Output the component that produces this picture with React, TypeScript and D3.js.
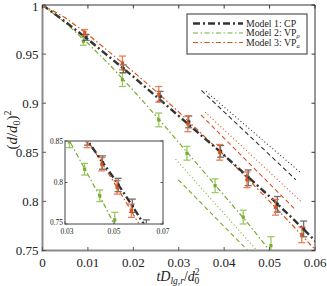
import * as d3 from 'd3'

// model curves (t, (d/d0)^2)
const MODEL_T = [0, 0.005, 0.01, 0.015, 0.02, 0.025, 0.03, 0.035, 0.04, 0.045, 0.05, 0.055, 0.06, 0.065]
const CP_CURVE = [1, 0.983, 0.965, 0.946, 0.927, 0.907, 0.887, 0.867, 0.847, 0.826, 0.805, 0.783, 0.760, 0.737]
const VPA_CURVE = [1, 0.987, 0.970, 0.951, 0.932, 0.912, 0.891, 0.869, 0.847, 0.824, 0.800, 0.776, 0.751, 0.725]
const VPR_CURVE = [1, 0.982, 0.961, 0.938, 0.913, 0.887, 0.860, 0.833, 0.806, 0.779, 0.750, 0.721, 0.692, 0.663]

// experimental points
const CP_T = [0, 0.0096, 0.0178, 0.0259, 0.0322, 0.0392, 0.0453, 0.0517, 0.0575, 0.0632]
const CP_Y = [0.999, 0.967, 0.935, 0.907, 0.881, 0.851, 0.824, 0.797, 0.772, 0.746]
const CP_ERR = [0.001, 0.003, 0.004, 0.005, 0.006, 0.006, 0.008, 0.008, 0.008, 0.009]

const VPA_T = [0, 0.0093, 0.0176, 0.0256, 0.032, 0.039, 0.045, 0.0513, 0.0571, 0.0625]
const VPA_Y = [0.999, 0.972, 0.941, 0.909, 0.879, 0.85, 0.822, 0.794, 0.766, 0.74]
const VPA_ERR = [0.001, 0.003, 0.007, 0.008, 0.008, 0.008, 0.008, 0.008, 0.008, 0.009]

const VPR_T = [0, 0.009, 0.0176, 0.0256, 0.0318, 0.038, 0.0442, 0.0503]
const VPR_Y = [0.999, 0.963, 0.924, 0.883, 0.849, 0.816, 0.784, 0.755]
const VPR_ERR = [0.001, 0.004, 0.007, 0.007, 0.007, 0.007, 0.007, 0.009]

// short guide segments [t, y] start / end
const CP_DASH = [[0.035, 0.913], [0.0558, 0.822]]
const CP_DOT = [[0.036, 0.912], [0.0569, 0.829]]
const VPA_DASH = [[0.0349, 0.888], [0.0558, 0.791]]
const VPA_DOT = [[0.0358, 0.891], [0.0569, 0.8]]
const VPR_DOT = [[0.0293, 0.843], [0.0472, 0.75]]
const VPR_DASH = [[0.0299, 0.822], [0.0452, 0.75]]

const X_TICKS = [0, 0.01, 0.02, 0.03, 0.04, 0.05, 0.06]
const X_LABELS = ['0', '0.01', '0.02', '0.03', '0.04', '0.05', '0.06']
const Y_TICKS = [0.75, 0.8, 0.85, 0.9, 0.95, 1]
const Y_LABELS = ['0.75', '0.8', '0.85', '0.9', '0.95', '1']
const IX_TICKS = [0.03, 0.05, 0.07]
const IX_LABELS = ['0.03', '0.05', '0.07']
const IY_TICKS = [0.75, 0.8, 0.85]
const IY_LABELS = ['0.75', '0.8', '0.85']

const LEGEND = ['Model 1: CP', 'Model 2: VP', 'Model 3: VP']
const LEGEND_SUB = ['', 'ρ', 'a']

const C_CP = '#333333'
const C_VPR = '#77AC30'
const C_VPA = '#D95319'
const FONT = 'Liberation Serif, DejaVu Serif, serif'

type Sc = d3.ScaleLinear<number, number>

function Curves({ x, y }: { x: Sc; y: Sc }) {
  const line = (vals: number[]) =>
    d3.line<number>().x((_, i) => x(MODEL_T[i])).y(d => y(d))(vals) ?? ''
  return (
    <g fill="none">
      <path d={line(VPR_CURVE)} stroke={C_VPR} strokeWidth={1.2} strokeDasharray="5,2.5,1.5,2.5" />
      <path d={line(VPA_CURVE)} stroke={C_VPA} strokeWidth={1.2} strokeDasharray="5,2.5,1.5,2.5" />
      <path d={line(CP_CURVE)} stroke={C_CP} strokeWidth={2.4} strokeDasharray="7,3,2,3" />
    </g>
  )
}

function Points({ x, y, ts, ys, errs, color, barColor }: { x: Sc; y: Sc; ts: number[]; ys: number[]; errs: number[]; color: string; barColor: string }) {
  return (
    <g>
      {ts.map((t, i) => {
        const cx = x(t)
        const y0 = y(ys[i] + errs[i])
        const y1 = y(ys[i] - errs[i])
        return (
          <g key={i}>
            <g stroke={barColor} strokeWidth={1.3} opacity={0.85}>
              <line x1={cx} x2={cx} y1={y0} y2={y1} />
              <line x1={cx - 3.5} x2={cx + 3.5} y1={y0} y2={y0} />
              <line x1={cx - 3.5} x2={cx + 3.5} y1={y1} y2={y1} />
            </g>
            <rect x={cx - 1.6} y={y(ys[i]) - 1.6} width={3.2} height={3.2} fill={color} />
          </g>
        )
      })}
    </g>
  )
}

function Data({ x, y }: { x: Sc; y: Sc }) {
  return (
    <g>
      <Points x={x} y={y} ts={VPR_T} ys={VPR_Y} errs={VPR_ERR} color={C_VPR} barColor="#8cc04a" />
      <Points x={x} y={y} ts={CP_T} ys={CP_Y} errs={CP_ERR} color={C_CP} barColor="#555" />
      <Points x={x} y={y} ts={VPA_T} ys={VPA_Y} errs={VPA_ERR} color={C_VPA} barColor="#e8673a" />
    </g>
  )
}

export default function App() {
  const x = d3.scaleLinear().domain([0, 0.06]).range([42.5, 315])
  const y = d3.scaleLinear().domain([0.75, 1]).range([250.5, 5])
  const ix = d3.scaleLinear().domain([0.03, 0.07]).range([65, 163])
  const iy = d3.scaleLinear().domain([0.75, 0.85]).range([224, 141])

  const seg = (s: number[][]) => d3.line<number[]>().x(d => x(d[0])).y(d => y(d[1]))(s) ?? ''

  const legendRows = [
    { color: C_CP, w: 2.4, dash: '7,3,2,3' },
    { color: C_VPR, w: 1.2, dash: '5,2.5,1.5,2.5' },
    { color: C_VPA, w: 1.2, dash: '5,2.5,1.5,2.5' },
  ]

  return (
    <svg width={327} height={286} style={{ position: 'absolute', left: 0, top: 0, background: '#fff' }} fontFamily={FONT}>
      <defs>
        <clipPath id="main-clip"><rect x={42.5} y={5} width={272.5} height={245.5} /></clipPath>
        <clipPath id="inset-clip"><rect x={65} y={141} width={98} height={83} /></clipPath>
      </defs>
      <rect width={327} height={286} fill="#fff" />

      <g clipPath="url(#main-clip)">
        <Curves x={x} y={y} />
        <g fill="none" strokeWidth={1.1}>
          <path d={seg(CP_DASH)} stroke={C_CP} strokeDasharray="4.5,3" />
          <path d={seg(CP_DOT)} stroke={C_CP} strokeDasharray="1,2.5" />
          <path d={seg(VPA_DASH)} stroke={C_VPA} strokeDasharray="4.5,3" />
          <path d={seg(VPA_DOT)} stroke={C_VPA} strokeDasharray="1,2.5" />
          <path d={seg(VPR_DASH)} stroke={C_VPR} strokeDasharray="4.5,3" />
          <path d={seg(VPR_DOT)} stroke={C_VPR} strokeDasharray="1,2.5" />
        </g>
        <Data x={x} y={y} />
      </g>

      {/* frame */}
      <g>
        <line x1={42.5} x2={315} y1={5} y2={5} stroke="#333" strokeWidth={1} />
        <line x1={315} x2={315} y1={5} y2={250.5} stroke="#333" strokeWidth={1} />
        <line x1={42.5} x2={42.5} y1={4.5} y2={251.5} stroke="#8a8a8a" strokeWidth={2} />
        <line x1={41.5} x2={315.5} y1={250.5} y2={250.5} stroke="#8a8a8a" strokeWidth={2} />
        {X_TICKS.map((t, i) => (
          <g key={i}>
            <line x1={x(t)} x2={x(t)} y1={250.5} y2={247} stroke="#555" />
            <line x1={x(t)} x2={x(t)} y1={5} y2={8.5} stroke="#333" />
            <text x={x(t)} y={267} textAnchor="middle" fontSize={13} fill="#222">{X_LABELS[i]}</text>
          </g>
        ))}
        {Y_TICKS.map((v, i) => (
          <g key={i}>
            <line x1={42.5} x2={46} y1={y(v)} y2={y(v)} stroke="#555" />
            <line x1={315} x2={311.5} y1={y(v)} y2={y(v)} stroke="#333" />
            <text x={38.5} y={y(v) + (v === 1 ? 5.5 : 4.5)} textAnchor="end" fontSize={13} fill="#222">{Y_LABELS[i]}</text>
          </g>
        ))}
      </g>

      {/* axis titles */}
      <text transform="translate(17,130) rotate(-90)" textAnchor="middle" fontSize={15} fill="#222">
        (<tspan fontStyle="italic">d</tspan>/<tspan fontStyle="italic">d</tspan><tspan fontSize={10} dy={3}>0</tspan><tspan dy={-3}>)</tspan><tspan fontSize={10} dy={-6}>2</tspan>
      </text>
      <text x={178} y={281} textAnchor="middle" fontSize={14} fill="#222">
        <tspan fontStyle="italic">tD</tspan><tspan fontStyle="italic" fontSize={9.5} dy={3}>lg,r</tspan><tspan dy={-3}>/</tspan><tspan fontStyle="italic">d</tspan><tspan fontSize={9.5} dy={-6}>2</tspan><tspan fontSize={9.5} dx={-5} dy={9}>0</tspan>
      </text>

      {/* legend */}
      <g>
        <rect x={187} y={14} width={120} height={40} fill="#fff" stroke="#333" strokeWidth={1} />
        {legendRows.map((r, i) => (
          <g key={i}>
            <line x1={193} x2={243} y1={23.5 + i * 9.5} y2={23.5 + i * 9.5} stroke={r.color} strokeWidth={r.w} strokeDasharray={r.dash} />
            <text x={246} y={26.8 + i * 9.5} fontSize={9.8} fill="#222">
              {LEGEND[i]}{LEGEND_SUB[i] && <tspan fontSize={6.5} dy={2} fontStyle="italic">{LEGEND_SUB[i]}</tspan>}
            </text>
          </g>
        ))}
      </g>

      {/* inset */}
      <g>
        <rect x={65} y={141} width={98} height={83} fill="#fff" />
        <g clipPath="url(#inset-clip)">
          <Curves x={ix} y={iy} />
          <Data x={ix} y={iy} />
        </g>
        <rect x={65} y={141} width={98} height={83} fill="none" stroke="#8a8a8a" strokeWidth={1.6} />
        {IX_TICKS.map((t, i) => (
          <g key={i}>
            <line x1={ix(t)} x2={ix(t)} y1={224} y2={221.5} stroke="#555" />
            <text x={ix(t) + (i === 0 ? 2 : 0)} y={234} textAnchor="middle" fontSize={7.5} fill="#222">{IX_LABELS[i]}</text>
          </g>
        ))}
        {IY_TICKS.map((v, i) => (
          <g key={i}>
            <line x1={65} x2={67.5} y1={iy(v)} y2={iy(v)} stroke="#555" />
            <line x1={163} x2={160.5} y1={iy(v)} y2={iy(v)} stroke="#555" />
            <text x={63} y={iy(v) + (i === 0 ? 1 : 2.6)} textAnchor="end" fontSize={7.5} fill="#222">{IY_LABELS[i]}</text>
          </g>
        ))}
      </g>
    </svg>
  )
}
